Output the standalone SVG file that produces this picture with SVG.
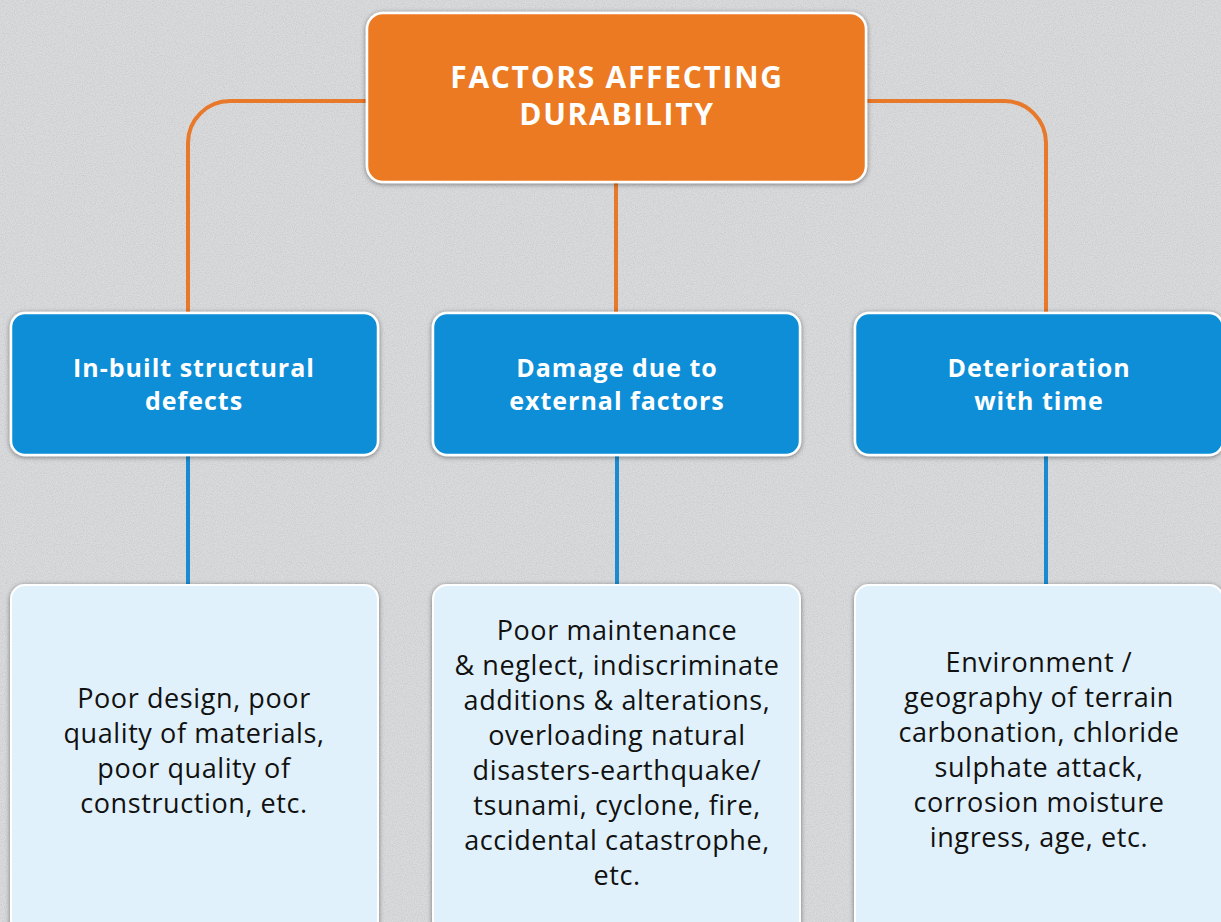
<svg xmlns="http://www.w3.org/2000/svg" width="1221" height="922" viewBox="0 0 1221 922">
<defs>
<filter id="noise" x="0" y="0" width="100%" height="100%">
<feTurbulence type="fractalNoise" baseFrequency="0.9" numOctaves="2" seed="3" result="n"/>
<feColorMatrix type="matrix" values="0 0 0 0 0.55  0 0 0 0 0.55  0 0 0 0 0.57  0 0 0 -1.3 0.85" in="n" result="m"/>
<feComposite in="m" in2="SourceGraphic" operator="in"/>
</filter>
<filter id="sh" x="-10%" y="-10%" width="120%" height="120%">
<feDropShadow dx="0" dy="1" stdDeviation="2.5" flood-color="#000" flood-opacity="0.45"/>
</filter>
</defs>
<style>
.root{fill:#ec7a24;stroke:#fff;stroke-width:2.5;filter:url(#sh)}
.cat{fill:#0a8ed7;stroke:#fff;stroke-width:2.5;filter:url(#sh)}
.det{fill:#e1f1fb;stroke:#fff;stroke-width:2;filter:url(#sh)}
.oc{fill:none;stroke:#e8782a;stroke-width:4}
.bc{fill:none;stroke:#1a8bd0;stroke-width:4}
.t1{font-family:"Open Sans","Noto Sans",sans-serif;font-weight:700;font-size:30px;fill:#fff;text-anchor:middle;letter-spacing:1.7px}
.t2{font-family:"Open Sans","Noto Sans",sans-serif;font-weight:700;font-size:25px;fill:#fff;text-anchor:middle;letter-spacing:1px}
.t3{font-family:"Open Sans","Noto Sans",sans-serif;font-size:27px;fill:#111;text-anchor:middle;letter-spacing:0.6px}
</style>
<rect x="0" y="0" width="1221" height="922" fill="#dadbdd"/>
<rect x="0" y="0" width="1221" height="922" fill="#dadbdd" filter="url(#noise)"/>
<g id="connectors">
<path class="oc" d="M367 101 H230 A42 42 0 0 0 188 143 V313"/>
<path class="oc" d="M866 101 H1004 A42 42 0 0 1 1046 143 V313"/>
<path class="oc" d="M616 183 V313"/>
<path class="bc" d="M188 456 V585"/>
<path class="bc" d="M617 456 V585"/>
<path class="bc" d="M1046 456 V585"/>
</g>
<g id="root">
<rect class="root" x="367" y="13" width="499" height="169" rx="16"/>
<text class="t1" x="617" y="88">FACTORS AFFECTING</text>
<text class="t1" x="617" y="125">DURABILITY</text>
</g>
<g id="cat1">
<rect class="cat" x="11" y="313" width="367" height="142" rx="14"/>
<text class="t2" x="194" y="377">In-built structural</text>
<text class="t2" x="194" y="410">defects</text>
</g>
<g id="cat2">
<rect class="cat" x="433" y="313" width="367" height="142" rx="14"/>
<text class="t2" x="617" y="377">Damage due to</text>
<text class="t2" x="617" y="410">external factors</text>
</g>
<g id="cat3">
<rect class="cat" x="855" y="313" width="368" height="142" rx="14"/>
<text class="t2" x="1039" y="377">Deterioration</text>
<text class="t2" x="1039" y="410">with time</text>
</g>
<g id="det1">
<rect class="det" x="11" y="585" width="367" height="350" rx="14"/>
<text class="t3" x="194" y="708">Poor design, poor</text>
<text class="t3" x="194" y="743">quality of materials,</text>
<text class="t3" x="194" y="778">poor quality of</text>
<text class="t3" x="194" y="813">construction, etc.</text>
</g>
<g id="det2">
<rect class="det" x="433" y="585" width="367" height="350" rx="14"/>
<text class="t3" x="617" y="640">Poor maintenance</text>
<text class="t3" x="617" y="675">&amp; neglect, indiscriminate</text>
<text class="t3" x="617" y="710">additions &amp; alterations,</text>
<text class="t3" x="617" y="745">overloading natural</text>
<text class="t3" x="617" y="780">disasters-earthquake/</text>
<text class="t3" x="617" y="815">tsunami, cyclone, fire,</text>
<text class="t3" x="617" y="850">accidental catastrophe,</text>
<text class="t3" x="617" y="885">etc.</text>
</g>
<g id="det3">
<rect class="det" x="855" y="585" width="368" height="350" rx="14"/>
<text class="t3" x="1039" y="672">Environment /</text>
<text class="t3" x="1039" y="707">geography of terrain</text>
<text class="t3" x="1039" y="742">carbonation, chloride</text>
<text class="t3" x="1039" y="777">sulphate attack,</text>
<text class="t3" x="1039" y="812">corrosion moisture</text>
<text class="t3" x="1039" y="847">ingress, age, etc.</text>
</g>
</svg>
